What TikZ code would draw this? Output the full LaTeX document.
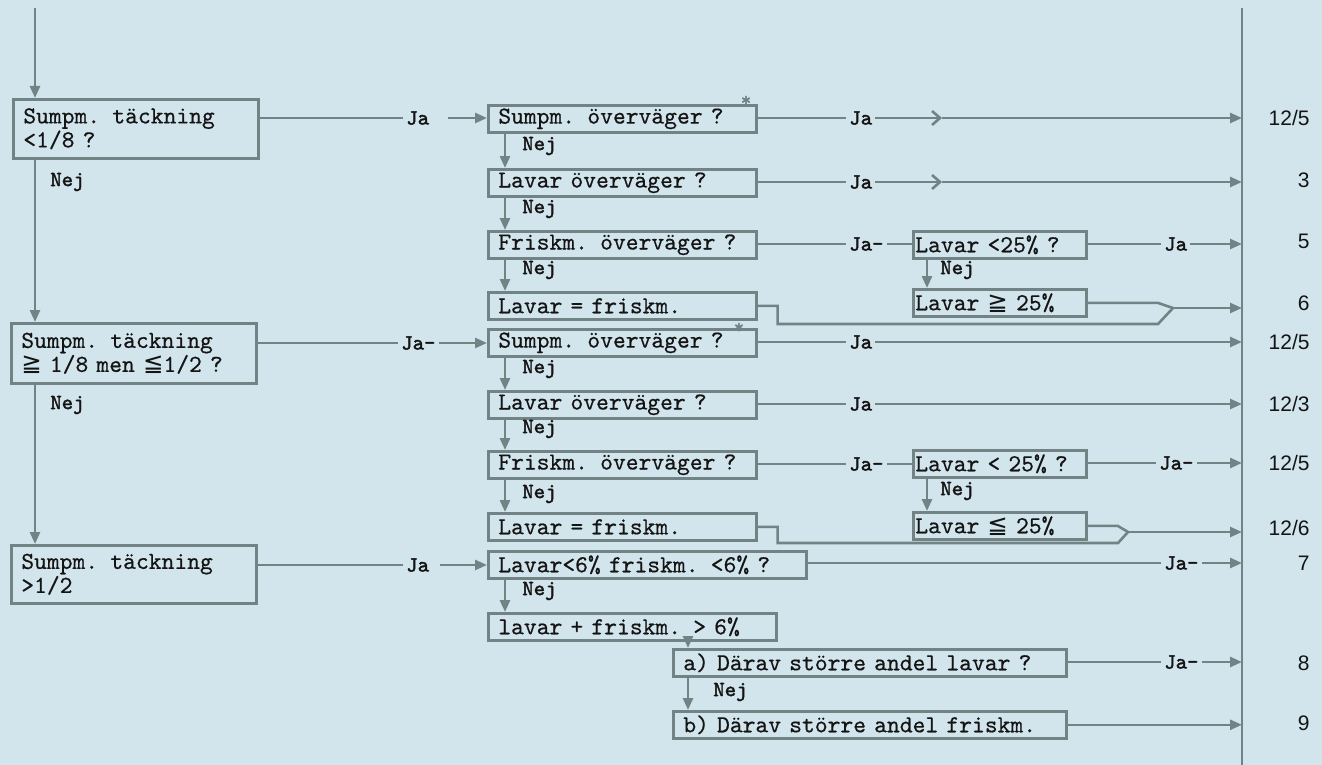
\documentclass[tikz,border=0pt]{standalone}
\usepackage{fontspec}
\newfontfamily\symf{DejaVu Sans}
\newfontfamily\labf{Liberation Sans}
\newfontfamily\twf[FakeBold=0.5]{lmmono10-regular.otf}
\newfontfamily\twb[FakeBold=2]{lmmono10-regular.otf}
\usetikzlibrary{arrows.meta}
\definecolor{bgc}{HTML}{D2E5EC}
\definecolor{lnc}{HTML}{718385}
\definecolor{txc}{HTML}{141414}
\newcommand{\myge}{{\symf ≧}}
\newcommand{\myle}{{\symf ≦}}
\begin{document}
\begin{tikzpicture}[x=0.5pt,y=-0.5pt,
  bx/.style={draw=lnc, line width=1.3pt, rectangle, anchor=north west, inner xsep=5pt, inner ysep=0pt,
    align=left, text=txc, font=\twf\fontsize{12.2}{12}\selectfont},
  abox/.style={bx, minimum height=13.5pt, text width=124pt},
  bbox/.style={bx, minimum height=13.5pt, inner xsep=1pt, text width=84.5pt},
  conn/.style={draw=lnc, line width=1.3pt},
  arr/.style={conn, -{Triangle[length=6pt,width=5pt]}},
  barb/.style={conn, -{Straight Barb[length=4pt,width=7pt]}},
  yes/.style={font=\twb\fontsize{10.8}{11}\selectfont, text=txc, inner xsep=1.5pt, inner ysep=0pt, anchor=west},
  no/.style={font=\twb\fontsize{10.8}{11}\selectfont, text=txc, inner sep=0pt, anchor=west},
  res/.style={font=\labf\fontsize{10.5}{12}\selectfont, text=txc, inner sep=0pt, anchor=east},
  star/.style={font=\twb\fontsize{10}{10}\selectfont, text=lnc, inner sep=0pt}]
\fill[bgc] (0,0) rectangle (1322,765);
\useasboundingbox (0,0) rectangle (1322,765);

% main vertical right line
\coordinate (vt) at (1242,8);
\coordinate (vb) at (1242,765);
\draw[conn] (vt) -- (vb);

% left column
\node[bx, minimum width=122.5pt, minimum height=29.5pt, text width=112.5pt] (b1) at (12,98) {Sumpm. täckning\\<1/8 ?};
\node[bx, minimum width=122.5pt, minimum height=30pt, text width=112.5pt] (b2) at (10,322) {Sumpm. täckning\\\myge\ 1/8 men \myle 1/2 ?};
\node[bx, minimum width=122.5pt, minimum height=29pt, text width=112.5pt] (b3) at (10,544) {Sumpm. täckning\\>1/2};
\coordinate (lx) at (35,8);
\draw[arr] (lx) -- (b1.north -| lx);
\draw[arr] (b1.south -| lx) -- (b2.north -| lx);
\draw[arr] (b2.south -| lx) -- (b3.north -| lx);
\node[no] (n01) at (50,182) {Nej};
\node[no] (n02) at (50,405) {Nej};

% A column
\node[abox] (a1) at (487,104) {Sumpm. överväger ?};
\node[abox] (a2) at (487,168) {Lavar överväger ?};
\node[abox] (a3) at (487,230) {Friskm. överväger ?};
\node[abox] (a4) at (487,291) {Lavar = friskm.};
\node[abox] (a5) at (487,328) {Sumpm. överväger ?};
\node[abox] (a6) at (487,390) {Lavar överväger ?};
\node[abox] (a7) at (487,450) {Friskm. överväger ?};
\node[abox] (a8) at (487,512) {Lavar = friskm.};
\node[bx, minimum height=13.5pt, text width=149pt] (a9) at (487,550) {Lavar<6\% friskm. <6\% ?};
\node[bx, minimum height=13.5pt, text width=134pt] (a10) at (487,612) {lavar + friskm. > 6\%};
\node[bx, minimum height=13.5pt, text width=186.5pt] (a11) at (672,648) {a) Därav större andel lavar ?};
\node[bx, minimum height=13.5pt, text width=186.5pt] (a12) at (672,710) {b) Därav större andel friskm.};
\node[star] (s1) at (746,101) {*};
\node[star] (s5) at (739,328) {*};

\coordinate (ax) at (505,0);
\draw[arr] (a1.south -| ax) -- (a2.north -| ax);
\draw[arr] (a2.south -| ax) -- (a3.north -| ax);
\draw[arr] (a3.south -| ax) -- (a4.north -| ax);
\draw[arr] (a5.south -| ax) -- (a6.north -| ax);
\draw[arr] (a6.south -| ax) -- (a7.north -| ax);
\draw[arr] (a7.south -| ax) -- (a8.north -| ax);
\draw[arr] (a9.south -| ax) -- (a10.north -| ax);
\coordinate (cx) at (688,0);
\draw[arr] (a10.south -| cx) -- (a11.north -| cx);
\draw[arr] (a11.south -| cx) -- (a12.north -| cx);
\node[no] (n1) at (522,146) {Nej};
\node[no] (n2) at (522,209) {Nej};
\node[no] (n3) at (522,270) {Nej};
\node[no] (n5) at (522,369) {Nej};
\node[no] (n6) at (522,429) {Nej};
\node[no] (n7) at (522,494) {Nej};
\node[no] (n9) at (522,591) {Nej};
\node[no] (n11) at (713,692) {Nej};

% B column
\node[bbox] (c1) at (912,230) {Lavar <25\% ?};
\node[bbox] (c2) at (912,288) {Lavar \myge\ 25\%};
\node[bbox] (c3) at (912,449) {Lavar < 25\% ?};
\node[bbox] (c4) at (912,511) {Lavar \myle\ 25\%};
\coordinate (bx) at (927,0);
\draw[arr] (c1.south -| bx) -- (c2.north -| bx);
\draw[arr] (c3.south -| bx) -- (c4.north -| bx);
\node[no] (nb1) at (940,270) {Nej};
\node[no] (nb3) at (940,491) {Nej};

% Ja connectors from left column
\node[yes] (j01) at (403,118) {Ja};
\draw[conn] (b1.east |- j01) -- (j01.west);
\draw[arr] ([xshift=8pt]j01.east) -- (a1.west |- j01);
\node[yes] (j02) at (398,343) {Ja-};
\draw[conn] (b2.east |- j02) -- (j02.west);
\draw[arr] (j02.east) -- (a5.west |- j02);
\node[yes] (j03) at (403,565) {Ja};
\draw[conn] (b3.east |- j03) -- (j03.west);
\draw[arr] ([xshift=4pt]j03.east) -- (a9.west |- j03);

% Ja connectors A column
\node[yes] (ja1) at (846,118) {Ja};
\coordinate (ch1) at (942,118);
\draw[conn] (a1.east |- ja1) -- (ja1.west);
\draw[barb] (ja1.east) -- (ch1);
\draw[arr] (ch1) -- (ch1 -| vt);
\node[yes] (ja2) at (846,182) {Ja};
\coordinate (ch2) at (942,182);
\draw[conn] (a2.east |- ja2) -- (ja2.west);
\draw[barb] (ja2.east) -- (ch2);
\draw[arr] (ch2) -- (ch2 -| vt);
\node[yes] (ja3) at (846,244) {Ja-};
\draw[conn] (a3.east |- ja3) -- (ja3.west);
\draw[conn] (ja3.east) -- (c1.west |- ja3);
\node[yes] (ja5) at (846,342) {Ja};
\draw[conn] (a5.east |- ja5) -- (ja5.west);
\draw[arr] (ja5.east) -- (ja5.east -| vt);
\node[yes] (ja6) at (846,404) {Ja};
\draw[conn] (a6.east |- ja6) -- (ja6.west);
\draw[arr] (ja6.east) -- (ja6.east -| vt);
\node[yes] (ja7) at (846,464) {Ja-};
\draw[conn] (a7.east |- ja7) -- (ja7.west);
\draw[conn] (ja7.east) -- (c3.west |- ja7);
\node[yes] (ja9) at (1161,563) {Ja-};
\draw[conn] (a9.east |- ja9) -- (ja9.west);
\draw[arr] (ja9.east) -- (ja9.east -| vt);
\node[yes] (ja11) at (1161,662) {Ja-};
\draw[conn] (a11.east |- ja11) -- (ja11.west);
\draw[arr] (ja11.east) -- (ja11.east -| vt);
\draw[arr] (a12.east) -- (a12.east -| vt);

% Ja connectors B column
\node[yes] (jb1) at (1161,244) {Ja};
\draw[conn] (c1.east |- jb1) -- (jb1.west);
\draw[arr] (jb1.east) -- (jb1.east -| vt);
\node[yes] (jb3) at (1156,463) {Ja-};
\draw[conn] (c3.east |- jb3) -- (jb3.west);
\draw[arr] (jb3.east) -- (jb3.east -| vt);

% merges
\coordinate (m1) at (1173,308);
\draw[conn] (c2.east) -- ++(70,0) -- (m1);
\draw[conn] (a4.east) -- ++(20,0) |- (1158,324) -- (m1);
\draw[arr] (m1) -- (m1 -| vt);
\coordinate (m2) at (1128,532);
\draw[conn] (c4.east) -- ++(30,0) -- (m2);
\draw[conn] (a8.east) -- ++(20,0) |- (1118,543) -- (m2);
\draw[arr] (m2) -- (m2 -| vt);

% results
\node[res] (r1) at (1310,118) {12/5};
\node[res] (r2) at (1310,180) {3};
\node[res] (r3) at (1310,241) {5};
\node[res] (r4) at (1310,303) {6};
\node[res] (r5) at (1310,342) {12/5};
\node[res] (r6) at (1310,404) {12/3};
\node[res] (r7) at (1310,463) {12/5};
\node[res] (r8) at (1310,528) {12/6};
\node[res] (r9) at (1310,563) {7};
\node[res] (r10) at (1310,663) {8};
\node[res] (r11) at (1310,723) {9};
\end{tikzpicture}
\end{document}
